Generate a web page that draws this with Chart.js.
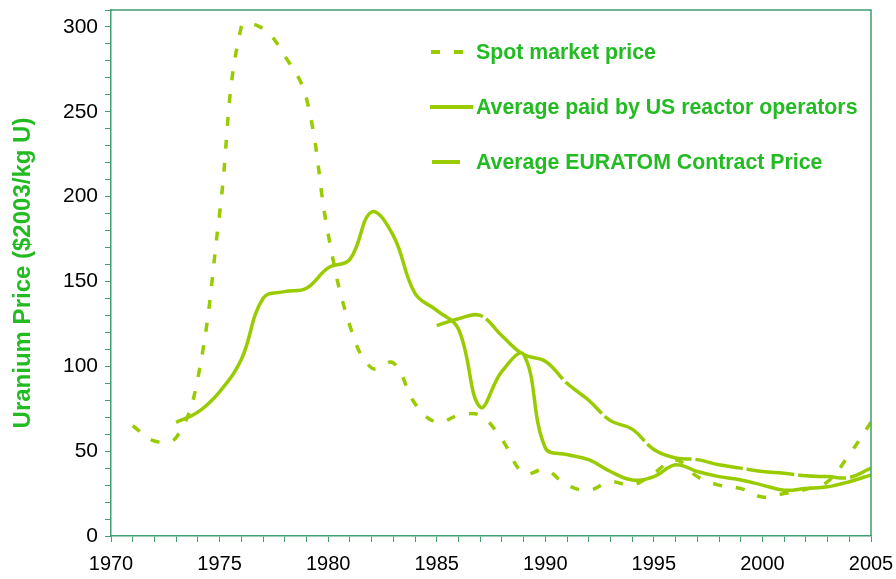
<!DOCTYPE html>
<html>
<head>
<meta charset="utf-8">
<script src="https://cdn.jsdelivr.net/npm/chart.js@4/dist/chart.umd.min.js"></script>
<style>
  html, body { margin: 0; padding: 0; background: #fff; }
  #wrap { position: relative; width: 896px; height: 579px; }
  #c { position: absolute; left: 0; top: 0; }
  .leg { position: absolute; left: 476px; font: bold 21.3px "Liberation Sans", Arial, sans-serif; color: #22bb22; white-space: nowrap; line-height: 24px; }
  svg.ls { position: absolute; }
</style>
</head>
<body>
<div id="wrap">
  <canvas id="c" width="896" height="579"></canvas>
  <svg class="ls" style="left:425px;top:42px" width="50" height="20"><line x1="6" y1="10" x2="40" y2="10" stroke="#99cc00" stroke-width="4" stroke-dasharray="9,14"/></svg>
  <div class="leg" style="top:40px">Spot market price</div>
  <svg class="ls" style="left:425px;top:97px" width="50" height="20"><line x1="5" y1="10" x2="48" y2="10" stroke="#99cc00" stroke-width="4"/></svg>
  <div class="leg" style="top:95px">Average paid by US reactor operators</div>
  <svg class="ls" style="left:425px;top:152px" width="50" height="20"><line x1="7" y1="10" x2="35" y2="10" stroke="#99cc00" stroke-width="4"/></svg>
  <div class="leg" style="top:150px">Average EURATOM Contract Price</div>
</div>
<script>
// ---- data ----
const spotYears  = [1971,1972,1973,1974,1975,1976,1977,1978,1979,1980,1981,1982,1983,1984,1985,1986,1987,1988,1989,1990,1991,1992,1993,1994,1995,1996,1997,1998,1999,2000,2001,2002,2003,2004,2005];
const spotPrice  = [65,56,58,93,190,300,299,283,258,178,124,99,102,78,67,71,71,57,37,39,30,27,32,30,37,45,35,30,28,23,25,27.5,32,48,67];

const usYears    = [1973,1974,1975,1976,1977,1978,1979,1980,1981,1982,1983,1984,1985,1986,1987,1988,1989,1990,1991,1992,1993,1994,1995,1996,1997,1998,1999,2000,2001,2002,2003,2004,2005];
const usPrice    = [67,73,85,104,140,144,146,158,163,191,177,143,133,122,76,97,107,52,48,45,38,33,35,42,38,35,33,30,27,28,29,32,36];

const euYears    = [1985,1986,1987,1988,1989,1990,1991,1992,1993,1994,1995,1996,1997,1998,1999,2000,2001,2002,2003,2004,2005];
const euPrice    = [124,128,130,118,107,103,90,80,68,63,51,46,45,42,40,38,37,35.5,35,34.5,40];

const yearTicks  = [1970,1975,1980,1985,1990,1995,2000,2005];
const priceTicks = [0,50,100,150,200,250,300];

const toXY = (xs, ys) => xs.map((x, i) => ({ x: x, y: ys[i] }));

const LINE = '#99cc00';
const AXIS = '#3f9f6f';

const borderPlugin = {
  id: 'frame',
  afterDraw(chart) {
    const { ctx, chartArea: a } = chart;
    ctx.save();
    ctx.strokeStyle = AXIS;
    ctx.lineWidth = 1.5;
    ctx.beginPath();
    ctx.moveTo(a.left, a.top);
    ctx.lineTo(a.right, a.top);
    ctx.lineTo(a.right, a.bottom);
    ctx.stroke();
    ctx.restore();
  }
};

new Chart(document.getElementById('c'), {
  type: 'line',
  data: {
    datasets: [
      { label: 'Spot market price', data: toXY(spotYears, spotPrice), borderColor: LINE, borderWidth: 3.5, borderDash: [9, 14], pointRadius: 0, tension: 0.4, fill: false },
      { label: 'Average paid by US reactor operators', data: toXY(usYears, usPrice), borderColor: LINE, borderWidth: 3.5, pointRadius: 0, tension: 0.4, fill: false },
      { label: 'Average EURATOM Contract Price', data: toXY(euYears, euPrice), borderColor: LINE, borderWidth: 3.5, borderDash: [48, 4], pointRadius: 0, tension: 0.4, fill: false }
    ]
  },
  options: {
    responsive: false,
    animation: false,
    layout: { padding: { left: 0, right: 0, top: 0, bottom: 0 } },
    plugins: { legend: { display: false }, tooltip: { enabled: false } },
    scales: {
      x: {
        type: 'linear', min: 1970, max: 2005,
        border: { color: AXIS, width: 1.5 },
        grid: { drawOnChartArea: false, color: AXIS, tickLength: 6 },
        ticks: {
          stepSize: 1, autoSkip: false, maxRotation: 0, padding: 10,
          color: '#000', font: { family: '"Liberation Sans", Arial, sans-serif', size: 20 },
          callback: v => yearTicks.includes(v) ? String(v) : ''
        },
        afterFit(s) { s.height = 43; s.paddingLeft = 0; s.paddingRight = 25; }
      },
      y: {
        min: 0, max: 310,
        border: { color: AXIS, width: 1.5 },
        grid: { drawOnChartArea: false, color: AXIS, tickLength: 6 },
        ticks: {
          stepSize: 10, autoSkip: false, padding: 7,
          color: '#000', font: { family: '"Liberation Sans", Arial, sans-serif', size: 21 },
          callback: v => priceTicks.includes(v) ? String(v) : ''
        },
        title: {
          display: true, text: 'Uranium Price ($2003/kg U)', color: '#22bb22',
          font: { family: '"Liberation Sans", Arial, sans-serif', size: 24, weight: 'bold' },
          padding: { top: 9, bottom: 0 }
        },
        afterFit(s) { s.width = 111; s.paddingTop = 10; s.paddingBottom = 0; }
      }
    }
  },
  plugins: [borderPlugin]
});
</script>
</body>
</html>
